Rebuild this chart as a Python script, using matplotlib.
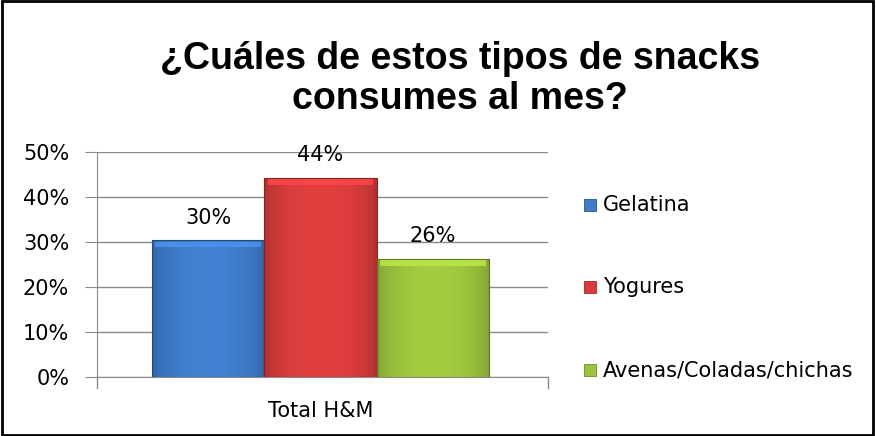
import numpy as np
import matplotlib
matplotlib.use("Agg")
import matplotlib.pyplot as plt
from matplotlib.patches import Rectangle
from matplotlib.colors import to_rgb

# data
category = "Total H&M"
series = ["Gelatina", "Yogures", "Avenas/Coladas/chichas"]
values = [0.304, 0.443, 0.263]
colors = ["#3f7bc8", "#d83c3c", "#9cc43e"]
yticks = [0.0, 0.1, 0.2, 0.3, 0.4, 0.5]

plt.rcParams["font.family"] = ["DejaVu Sans"]
FS = 15

fig = plt.figure(figsize=(8.76, 4.36), dpi=100)
ax = fig.add_axes([97 / 876, 59 / 436, 451 / 876, 225 / 436])

bar_w = 0.334
offsets = (np.arange(len(series)) - 1) * bar_w
bars = ax.bar(offsets, values, width=bar_w, color=colors, edgecolor="none", zorder=2)

# soft bevel look: horizontal gradient clipped to each bar
for b, c in zip(bars, colors):
    rgb = np.array(to_rgb(c))
    t = np.linspace(0, 1, 64)
    shade = 0.80 + 0.25 * np.sin(np.pi * t) ** 0.5
    img = np.clip(rgb[None, None, :] * shade[None, :, None], 0, 1)
    x0, w, h = b.get_x(), b.get_width(), b.get_height()
    im = ax.imshow(img, extent=[x0, x0 + w, 0, h], aspect="auto", zorder=3,
                   interpolation="bilinear")
    im.set_clip_path(b)
    ax.add_patch(Rectangle((x0, 0), w, h, fill=False,
                           edgecolor=tuple(rgb * 0.6), lw=0.8, zorder=4))
    ax.add_patch(Rectangle((x0 + w * 0.03, h - 0.016), w * 0.94, 0.012,
                           facecolor=tuple(np.clip(rgb * 1.2, 0, 1)),
                           edgecolor="none", alpha=0.8, zorder=4))

for x, v in zip(offsets, values):
    ax.text(x, v + 0.05, f"{round(v * 100):.0f}%", ha="center", va="center",
            fontsize=FS, zorder=5)

ax.set_xlim(-0.664, 0.676)
ax.set_ylim(0, 0.5)
ax.set_yticks(yticks)
ax.set_yticklabels([f"{int(round(t * 100))}%" for t in yticks], fontsize=FS)
ax.set_xticks([])
ax.grid(axis="y", color="#8a8a8a", lw=1.0, zorder=0)
ax.set_axisbelow(True)
for s in ["top", "right"]:
    ax.spines[s].set_visible(False)
for s in ["left", "bottom"]:
    ax.spines[s].set_color("#8a8a8a")
ax.tick_params(axis="y", length=9, color="#8a8a8a", pad=11)

# x category ticks at both ends
for xe in ax.get_xlim():
    ax.plot([xe, xe], [0, -0.025], color="#8a8a8a", lw=1, clip_on=False)
ax.text(0, -0.075, category, ha="center", va="center", fontsize=FS)

# legend
ys = [205, 287, 370]
for name, c, yy in zip(series, colors, ys):
    fig.patches.append(Rectangle((584 / 876, 1 - (yy + 6) / 436), 12 / 876, 12 / 436,
                                 transform=fig.transFigure, facecolor=c,
                                 edgecolor=tuple(np.array(to_rgb(c)) * 0.7), lw=0.6))
    fig.text(603 / 876, 1 - yy / 436, name, ha="left", va="center", fontsize=FS)

fig.text(0.525, 1 - 79 / 436, "¿Cuáles de estos tipos de snacks\nconsumes al mes?",
         ha="center", va="center", fontsize=27, fontweight="bold",
         family=["Liberation Sans", "DejaVu Sans"], linespacing=1.15)

fig.patches.append(Rectangle((0.002, 0.003), 0.995, 0.994, transform=fig.transFigure,
                             fill=False, edgecolor="black", lw=2))

fig.savefig("out.png", dpi=100)
